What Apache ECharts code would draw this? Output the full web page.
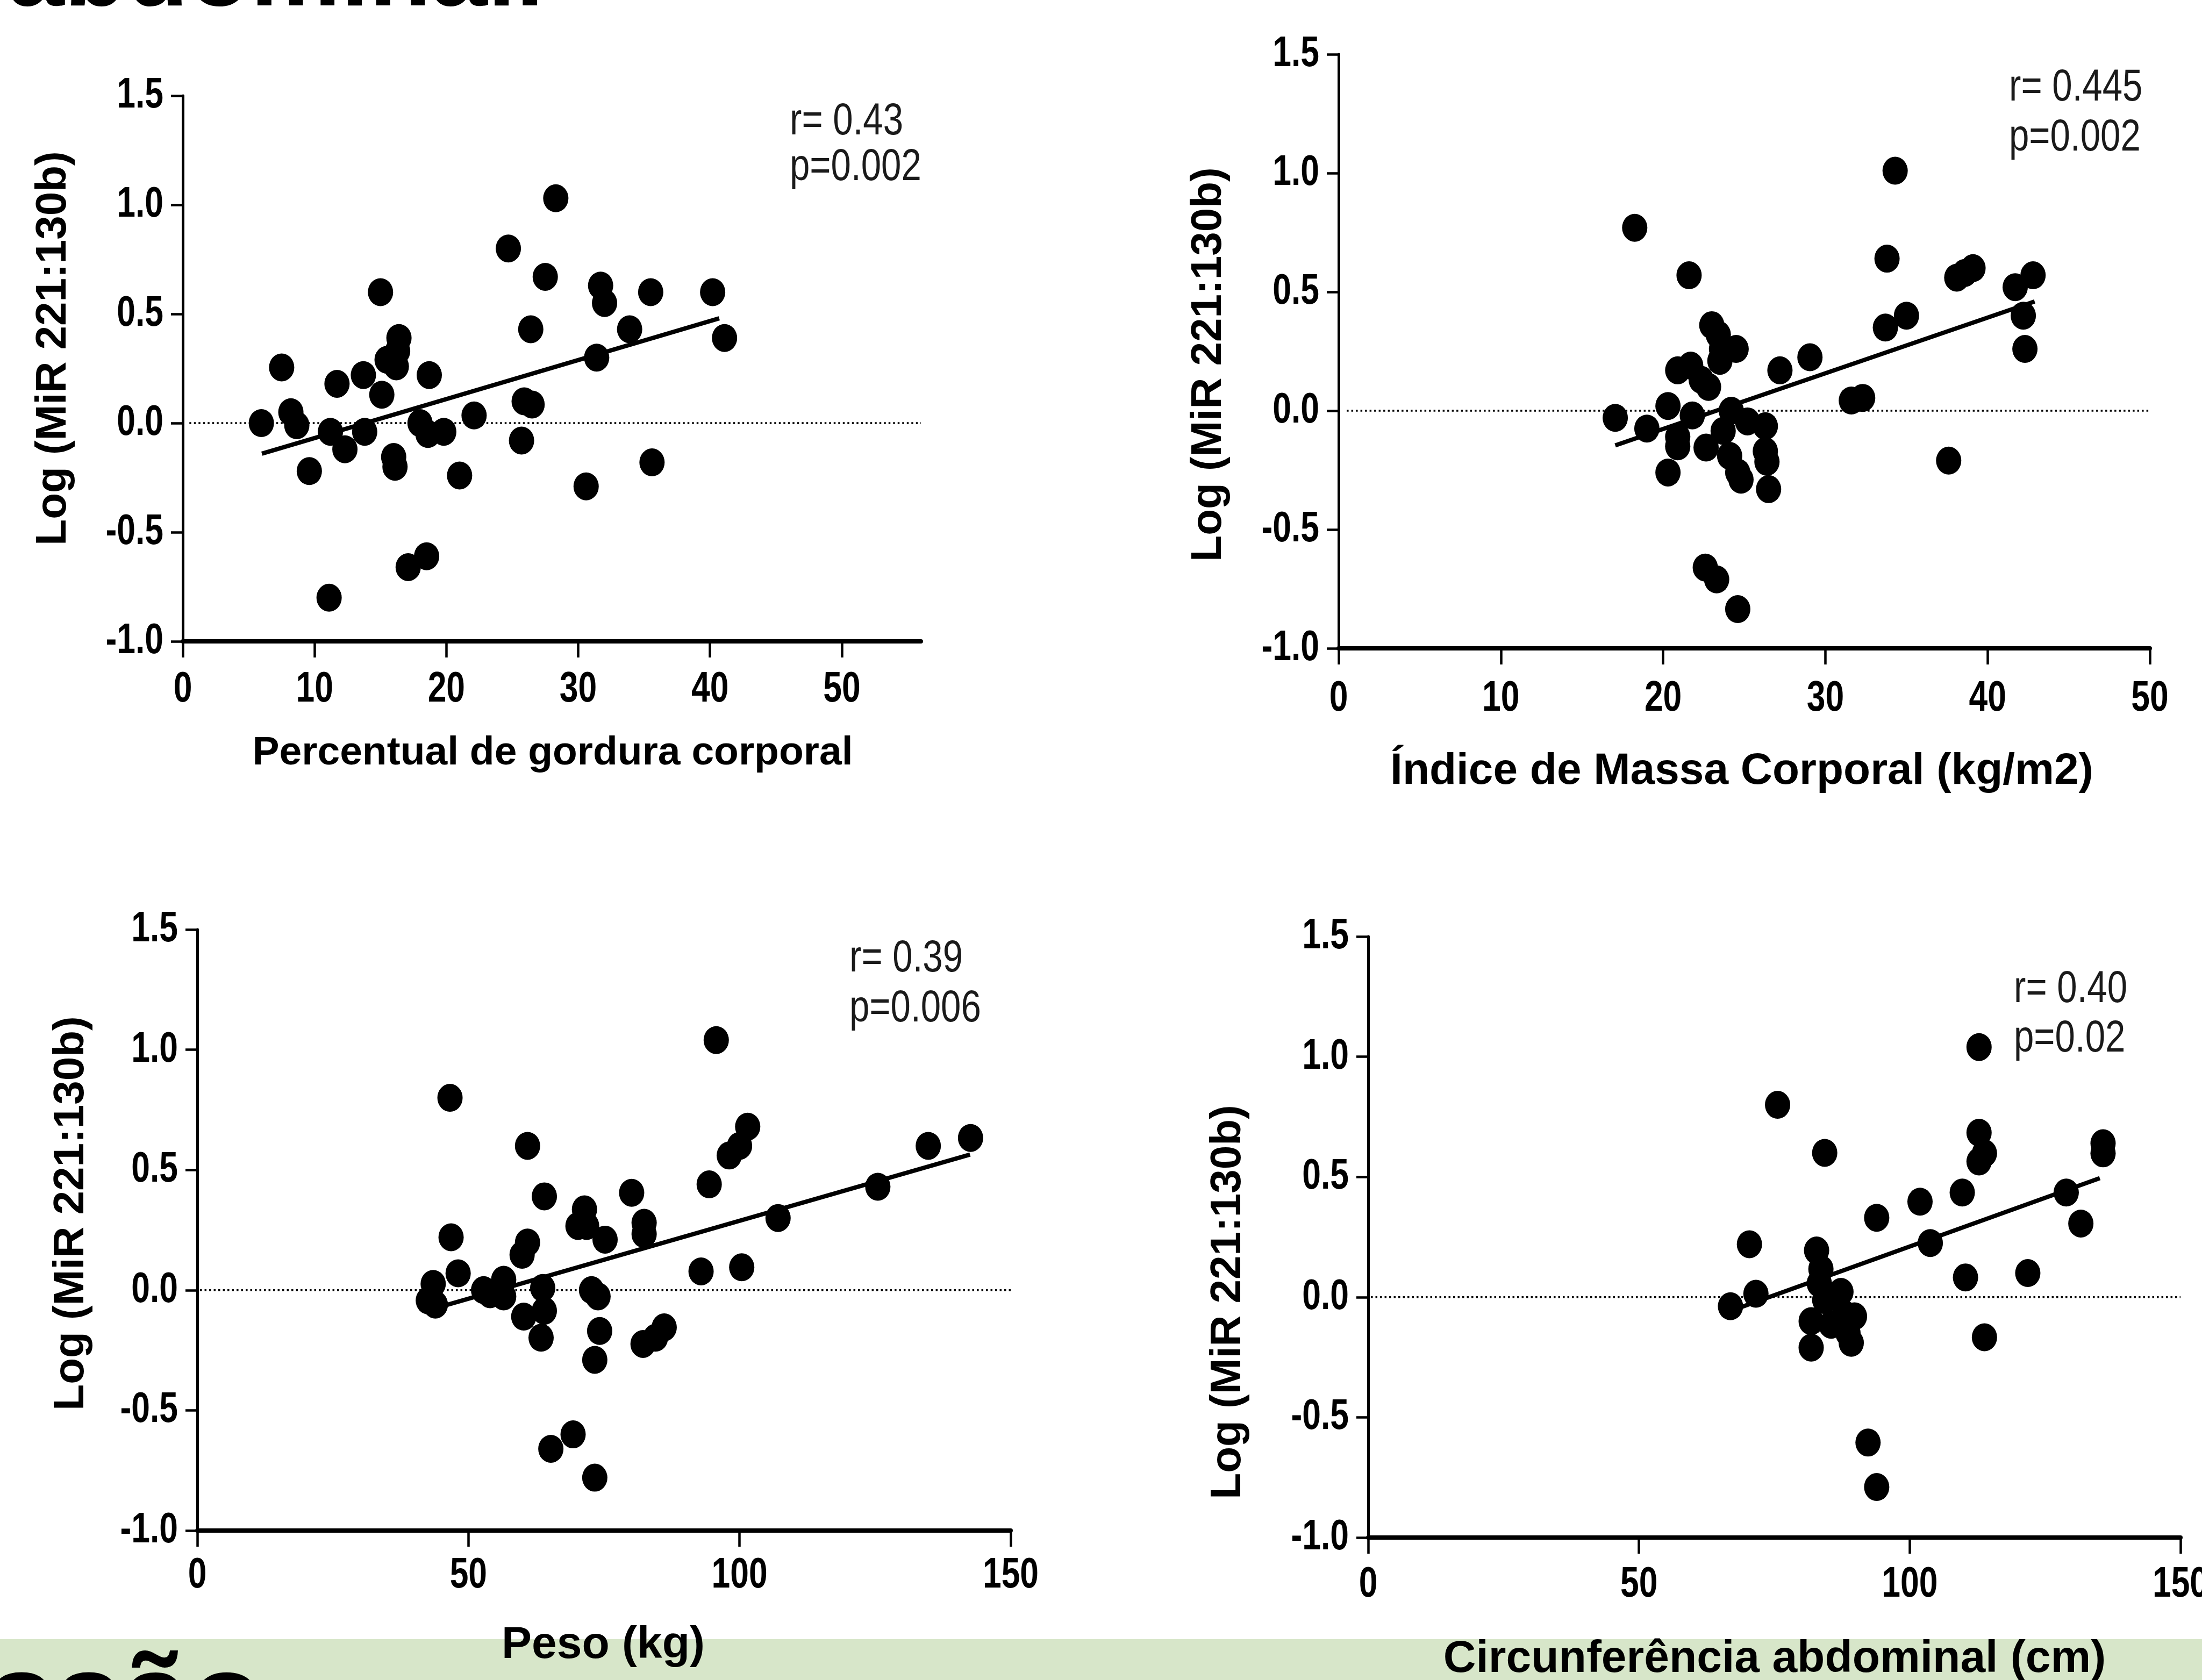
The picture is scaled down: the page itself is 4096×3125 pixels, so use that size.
<!DOCTYPE html>
<html>
<head>
<meta charset="utf-8">
<script src="https://cdn.jsdelivr.net/npm/echarts@6/dist/echarts.min.js"></script>
<style>
html,body{margin:0;padding:0;background:#fff;}
#c{width:4096px;height:3125px;}
</style>
</head>
<body>
<div id="c"></div>
<script>
// ---------- data ----------
const yTickValues = [-1.0, -0.5, 0.0, 0.5, 1.0, 1.5];

// Panel 1: Percentual de gordura corporal
const pctX = [5.96, 7.5, 8.2, 8.65, 9.6, 11.2, 11.7, 12.3, 11.1, 13.7, 13.8, 15.0, 15.1, 15.5, 16.0, 16.1, 16.4, 16.2, 16.3, 17.1, 18.5, 18.0, 18.7, 18.6, 19.8, 21.0, 22.1, 24.7, 25.7, 25.9, 26.5, 26.4, 27.5, 28.3, 30.6, 31.4, 31.7, 32.0, 33.9, 35.5, 35.6, 40.2, 41.1];
const pctY = [0.0, 0.255, 0.05, -0.01, -0.22, -0.04, 0.18, -0.12, -0.80, 0.22, -0.04, 0.60, 0.13, 0.29, -0.155, -0.20, 0.39, 0.26, 0.33, -0.66, -0.61, 0.0, 0.22, -0.05, -0.04, -0.24, 0.035, 0.80, -0.08, 0.10, 0.085, 0.43, 0.67, 1.03, -0.29, 0.30, 0.63, 0.55, 0.43, 0.60, -0.18, 0.60, 0.39];
const pctFitX = [6, 40.7];
const pctFitY = [-0.14, 0.48];

// Panel 2: Indice de Massa Corporal
const imcX = [17.05, 18.25, 19.0, 20.3, 20.3, 20.9, 20.9, 20.9, 21.6, 21.7, 21.8, 22.35, 22.8, 22.65, 23.0, 23.4, 23.6, 23.5, 24.5, 23.7, 24.2, 22.6, 23.3, 24.6, 24.1, 24.6, 24.8, 25.2, 26.3, 26.3, 26.4, 26.5, 27.2, 29.05, 31.6, 32.3, 33.7, 33.8, 34.3, 35.0, 37.6, 38.1, 38.6, 39.1, 41.7, 42.2, 42.3, 42.8];
const imcY = [-0.03, 0.77, -0.075, 0.02, -0.26, 0.17, -0.11, -0.15, 0.57, 0.19, -0.02, 0.13, 0.10, -0.155, 0.36, 0.32, 0.26, 0.21, 0.26, -0.085, 0.0, -0.66, -0.71, -0.835, -0.19, -0.26, -0.29, -0.045, -0.065, -0.17, -0.215, -0.33, 0.17, 0.225, 0.043, 0.054, 0.35, 0.64, 1.01, 0.40, -0.21, 0.56, 0.58, 0.60, 0.52, 0.40, 0.26, 0.57];
const imcFitX = [17.05, 42.9];
const imcFitY = [-0.146, 0.46];

// Panel 3: Peso
const pesoX = [42.6, 43.5, 43.9, 46.6, 46.8, 48.1, 52.8, 54.0, 56.5, 56.5, 60.2, 59.9, 60.9, 60.9, 63.4, 64.0, 64.0, 63.7, 65.2, 69.3, 70.2, 71.4, 71.8, 72.7, 73.9, 74.2, 73.3, 73.3, 75.2, 80.1, 82.4, 82.4, 82.2, 84.5, 86.1, 92.9, 94.4, 95.7, 98.1, 100.0, 100.4, 101.5, 107.1, 125.5, 134.8, 142.6];
const pesoY = [-0.043, 0.026, -0.06, 0.80, 0.22, 0.07, 0.0, -0.017, 0.043, -0.026, -0.11, 0.147, 0.198, 0.60, -0.198, -0.086, 0.39, 0.009, -0.66, -0.60, 0.267, 0.336, 0.267, 0.0, -0.026, -0.17, -0.29, -0.78, 0.21, 0.405, 0.28, 0.233, -0.224, -0.198, -0.155, 0.078, 0.44, 1.04, 0.56, 0.60, 0.095, 0.68, 0.30, 0.43, 0.60, 0.633];
const pesoFitX = [43.5, 142.5];
const pesoFitY = [-0.078, 0.564];

// Panel 4: Circunferencia abdominal
const caX = [66.9, 70.4, 71.6, 75.6, 81.8, 81.8, 82.8, 83.6, 83.3, 84.3, 84.3, 85.5, 87.3, 88.0, 88.6, 89.2, 89.8, 92.3, 93.9, 93.9, 101.9, 103.8, 109.7, 110.3, 112.8, 112.8, 112.8, 113.8, 113.8, 121.8, 128.9, 131.6, 135.7, 135.7];
const caY = [-0.038, 0.22, 0.014, 0.80, -0.10, -0.21, 0.194, 0.117, 0.057, 0.60, -0.012, -0.115, 0.022, -0.072, -0.15, -0.19, -0.08, -0.605, -0.79, 0.33, 0.397, 0.225, 0.435, 0.082, 1.04, 0.684, 0.564, 0.598, -0.167, 0.10, 0.435, 0.306, 0.64, 0.598];
const caFitX = [67.2, 135.1];
const caFitY = [-0.055, 0.495];

const xMaxes = [56, 50, 150, 150];
const xIntervals = [10, 10, 50, 50];
const xTickValues = [[0, 10, 20, 30, 40, 50], [0, 10, 20, 30, 40, 50], [0, 50, 100, 150], [0, 50, 100, 150]];
const xTitles = ['Percentual de gordura corporal', 'Índice de Massa Corporal (kg/m2)', 'Peso (kg)', 'Circunferência abdominal (cm)'];
const yTitle = 'Log (MiR 221:130b)';
const rTexts = ['r= 0.43', 'r= 0.445', 'r= 0.39', 'r= 0.40'];
const pTexts = ['p=0.002', 'p=0.002', 'p=0.006', 'p=0.02'];

// ---------- layout (pixels) ----------
const grids = [
  {left: 340, top: 178, width: 1373, height: 1015},
  {left: 2490, top: 101, width: 1509, height: 1105},
  {left: 367, top: 1729, width: 1513, height: 1118},
  {left: 2545, top: 1742, width: 1511, height: 1118}
];
const xLabelMargin = [50, 54, 44, 48];
const xTitlePos = [[1028, 1428, 75], [3240, 1464, 82], [1122, 3090, 84], [3301, 3116, 84]];
const yTitlePos = [[100, 648], [2249, 678], [133, 2257], [2285, 2422]];
const rpPos = [[1469, 256, 341], [3737, 193, 286], [1580, 1813, 1906], [3746, 1870, 1962]];

const FB = '"Liberation Sans", Arial, sans-serif';
const NARROW = 0.78;

const panels = [
  [pctX, pctY, pctFitX, pctFitY],
  [imcX, imcY, imcFitX, imcFitY],
  [pesoX, pesoY, pesoFitX, pesoFitY],
  [caX, caY, caFitX, caFitY]
];

const xAxes = [], yAxes = [], series = [];
panels.forEach((p, i) => {
  xAxes.push({
    gridIndex: i, type: 'value', min: 0, max: xMaxes[i], interval: xIntervals[i],
    axisLine: {show: true, onZero: false, lineStyle: {color: '#000', width: 8}},
    axisTick: {show: true, length: 30, customValues: xTickValues[i], lineStyle: {color: '#000', width: 4.5}},
    axisLabel: {show: false},
    splitLine: {show: false}
  });
  yAxes.push({
    gridIndex: i, type: 'value', min: -1, max: 1.5, interval: 0.5,
    axisLine: {show: true, onZero: false, lineStyle: {color: '#000', width: 5}},
    axisTick: {show: true, length: 22, lineStyle: {color: '#000', width: 4.5}},
    axisLabel: {show: false},
    splitLine: {show: false}
  });
  series.push({
    type: 'line', xAxisIndex: i, yAxisIndex: i, symbol: 'none', silent: true,
    data: [[0.5, 0], [xMaxes[i], 0]],
    lineStyle: {color: '#000', width: 3.5, type: [3.5, 5]}, z: 1
  });
  series.push({
    type: 'line', xAxisIndex: i, yAxisIndex: i, symbol: 'none', silent: true,
    data: p[2].map((x, k) => [x, p[3][k]]),
    lineStyle: {color: '#000', width: 8}, z: 2
  });
  series.push({
    type: 'scatter', xAxisIndex: i, yAxisIndex: i, symbol: 'circle', symbolSize: [47, 52],
    data: p[0].map((x, k) => [x, p[1][k]]),
    itemStyle: {color: '#000', opacity: 1}, z: 3
  });
});

const chart = echarts.init(document.getElementById('c'), null, {renderer: 'canvas', width: 4096, height: 3125});
chart.setOption({
  backgroundColor: '#fff',
  animation: false,
  grid: grids,
  xAxis: xAxes,
  yAxis: yAxes,
  series: series
});

// ---------- texts ----------
const graphics = [];
graphics.push({type: 'rect', shape: {x: 0, y: 3049, width: 4096, height: 80}, style: {fill: '#d7e6c9'}, z: -10});
graphics.push({type: 'text', x: 1012, y: -42, style: {text: 'abdominal.', fill: '#000', font: 'bold 189px ' + FB, textAlign: 'right', textVerticalAlign: 'middle'}});
graphics.push({type: 'text', x: 490, y: 3170, style: {text: 'Discussão', fill: '#000', font: 'bold 225px ' + FB, textAlign: 'right', textVerticalAlign: 'middle'}});

for (let i = 0; i < 4; i++) {
  const g = grids[i];
  const bottom = chart.convertToPixel({yAxisIndex: i}, -1);
  const left = chart.convertToPixel({xAxisIndex: i}, 0);
  // x tick labels (narrow bold)
  xTickValues[i].forEach(v => {
    const px = chart.convertToPixel({xAxisIndex: i}, v);
    graphics.push({type: 'text', x: px, y: bottom + xLabelMargin[i], scaleX: NARROW,
      style: {text: String(v), fill: '#000', font: 'bold 80px ' + FB, textAlign: 'center', textVerticalAlign: 'top'}});
  });
  // y tick labels (narrow bold)
  yTickValues.forEach(v => {
    const py = chart.convertToPixel({yAxisIndex: i}, v);
    graphics.push({type: 'text', x: left - 36, y: py, scaleX: NARROW,
      style: {text: v.toFixed(1), fill: '#000', font: 'bold 80px ' + FB, textAlign: 'right', textVerticalAlign: 'middle'}});
  });
  const [cx, base, fs] = xTitlePos[i];
  graphics.push({type: 'text', x: cx, y: base - 0.35 * fs, style: {text: xTitles[i], fill: '#000', font: 'bold ' + fs + 'px ' + FB, textAlign: 'center', textVerticalAlign: 'middle'}});
  const [yx, yy] = yTitlePos[i];
  graphics.push({type: 'text', x: yx, y: yy, rotation: Math.PI / 2, style: {text: yTitle, fill: '#000', font: 'bold 80px ' + FB, textAlign: 'center', textVerticalAlign: 'middle'}});
  const [rx, rb, pb] = rpPos[i];
  graphics.push({type: 'text', x: rx, y: rb - 0.35 * 84, scaleX: 0.8, style: {text: rTexts[i], fill: '#1a1a1a', font: '84px ' + FB, textAlign: 'left', textVerticalAlign: 'middle'}});
  graphics.push({type: 'text', x: rx, y: pb - 0.35 * 84, scaleX: 0.8, style: {text: pTexts[i], fill: '#1a1a1a', font: '84px ' + FB, textAlign: 'left', textVerticalAlign: 'middle'}});
}

chart.setOption({graphic: {elements: graphics}});
</script>
</body>
</html>
